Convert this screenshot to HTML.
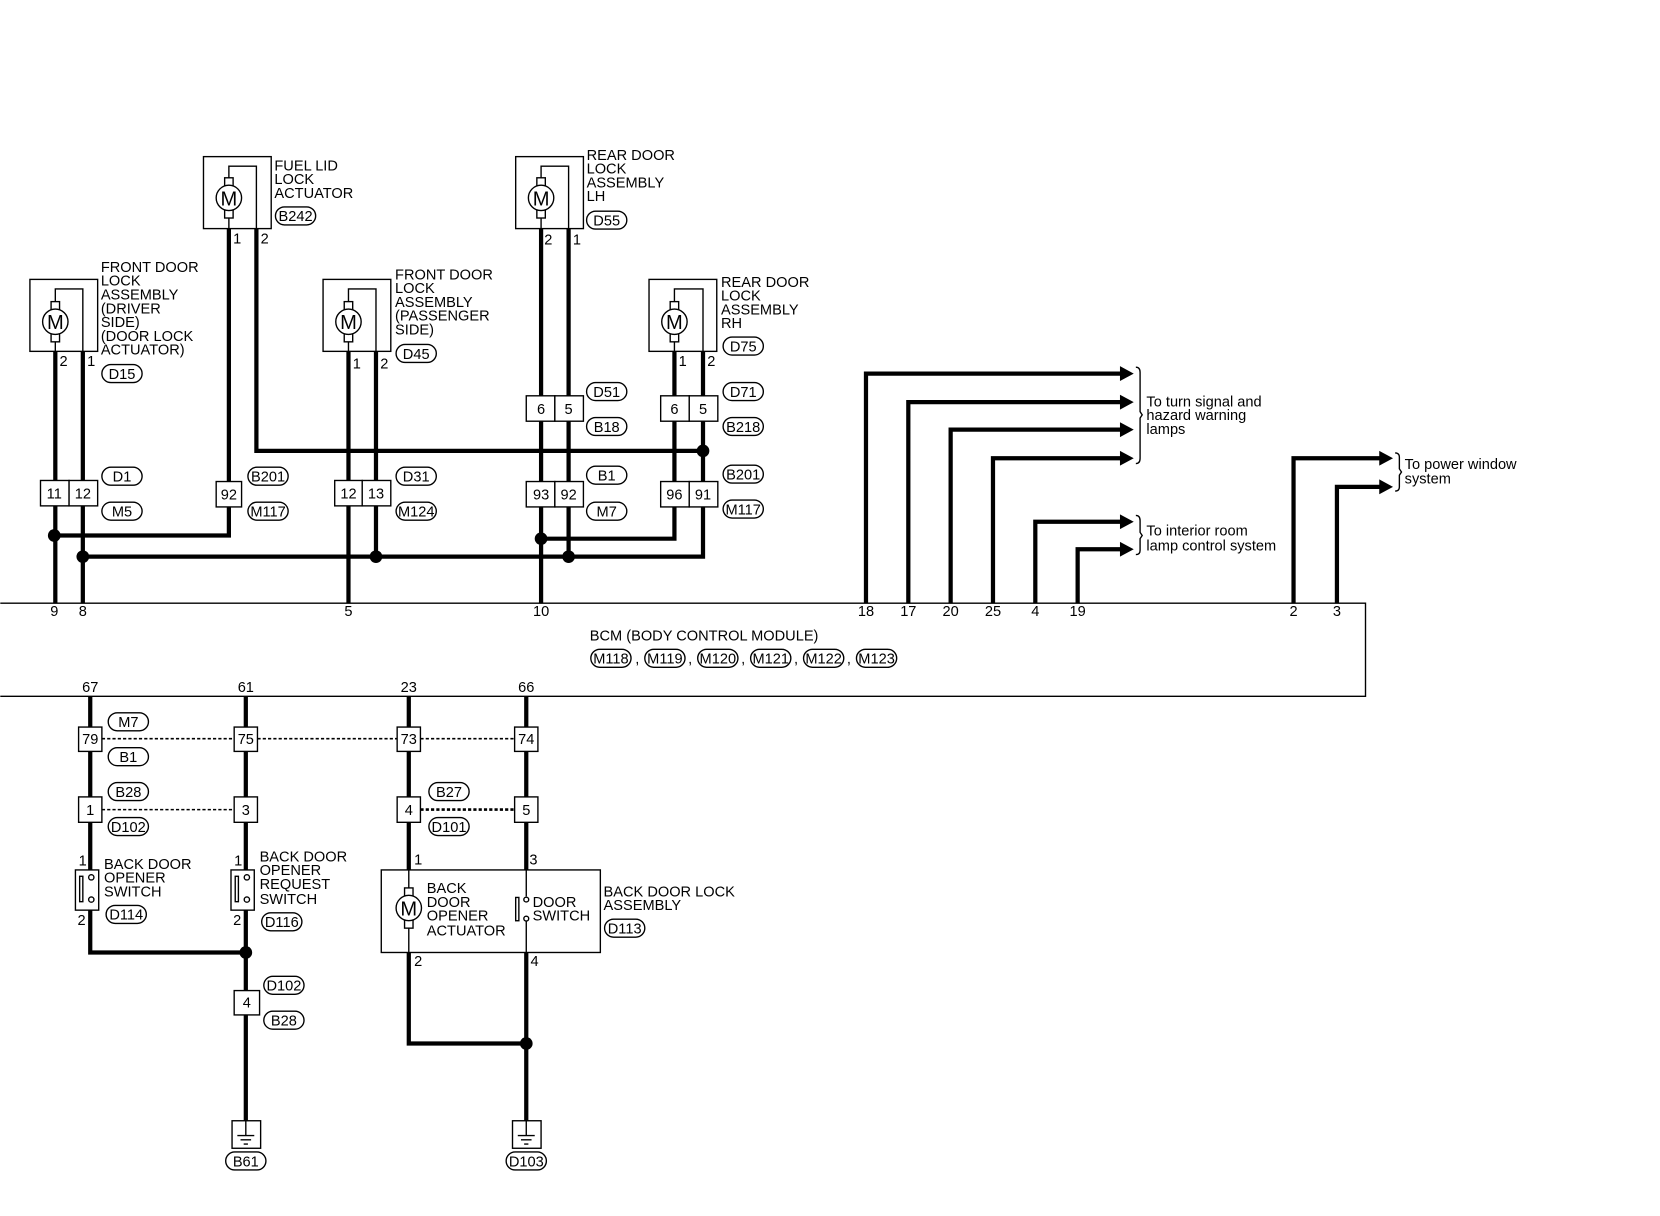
<!DOCTYPE html>
<html><head><meta charset="utf-8"><style>
html,body{margin:0;padding:0;background:#fff;}
svg{display:block}
text{font-family:"Liberation Sans Narrow","Liberation Sans",sans-serif;font-size:13.8px;fill:#000}
.w{stroke:#000;stroke-width:4;fill:none}
.t{stroke:#000;stroke-width:1.3;fill:none}
.b{stroke:#000;stroke-width:1.3;fill:#fff}
.d{stroke:#000;stroke-width:1.5;stroke-dasharray:3,2;fill:none}
.o{stroke:#000;stroke-width:1.3;fill:#fff}
.c{text-anchor:middle}
.m{font-size:19px;text-anchor:middle}
</style></head><body>
<svg width="1660" height="1216" viewBox="0 0 1568 1149" xmlns="http://www.w3.org/2000/svg">
<defs>
<g id="mot">
<rect x="-4" y="-19" width="8" height="8" class="b"/>
<rect x="-4" y="11" width="8" height="8" class="b"/>
<circle r="12" class="b"/>
</g>
<g id="ov"><rect x="-19" y="-8.5" width="38" height="17" rx="8.5" class="o"/></g>
</defs>

<path class="w" d="M52,332 V570 M78,332 V570"/>
<path class="w" d="M216,216 V506 H51 M242,216 V426 H664"/>
<path class="w" d="M329,332 V570 M355,332 V526"/>
<path class="w" d="M511,216 V570 M537,216 V526"/>
<path class="w" d="M511,509 H637 V332"/>
<path class="w" d="M664,332 V526 H78"/>

<g fill="#000">
<circle cx="51" cy="506" r="6"/><circle cx="78" cy="526" r="6"/><circle cx="355" cy="526" r="6"/>
<circle cx="537" cy="526" r="6"/><circle cx="511" cy="509" r="6"/><circle cx="664" cy="426" r="6"/>
<circle cx="232" cy="900" r="6"/><circle cx="497" cy="986" r="6"/>
</g>

<rect x="192" y="148" width="64" height="68" class="b"/>
<path class="t" d="M216,168 V157 H242 V216"/><path class="t" d="M216,206 V216"/>
<use href="#mot" x="216" y="187"/><text x="216" y="194" class="m">M</text>
<text x="259" y="161">FUEL LID</text><text x="259" y="174">LOCK</text><text x="259" y="187">ACTUATOR</text>
<use href="#ov" x="279" y="204"/><text x="279" y="209" class="c">B242</text>
<text x="220" y="230">1</text><text x="246" y="230">2</text>

<rect x="487" y="148" width="64" height="68" class="b"/>
<path class="t" d="M511,168 V157 H537 V216"/><path class="t" d="M511,206 V216"/>
<use href="#mot" x="511" y="187"/><text x="511" y="194" class="m">M</text>
<text x="554" y="151">REAR DOOR</text><text x="554" y="164">LOCK</text><text x="554" y="177">ASSEMBLY</text><text x="554" y="190">LH</text>
<use href="#ov" x="573" y="208"/><text x="573" y="213" class="c">D55</text>
<text x="514" y="231">2</text><text x="541" y="231">1</text>

<rect x="28" y="264" width="64" height="68" class="b"/>
<path class="t" d="M52,285 V273 H78 V332"/><path class="t" d="M52,323 V332"/>
<use href="#mot" x="52" y="304"/><text x="52" y="311" class="m">M</text>
<text x="95" y="257">FRONT DOOR</text><text x="95" y="270">LOCK</text><text x="95" y="283">ASSEMBLY</text><text x="95" y="296">(DRIVER</text><text x="95" y="309"> SIDE)</text><text x="95" y="322">(DOOR LOCK</text><text x="95" y="335"> ACTUATOR)</text>
<use href="#ov" x="115" y="353"/><text x="115" y="358" class="c">D15</text>
<text x="56" y="346">2</text><text x="82" y="346">1</text>

<rect x="305" y="264" width="64" height="68" class="b"/>
<path class="t" d="M329,285 V273 H355 V332"/><path class="t" d="M329,323 V332"/>
<use href="#mot" x="329" y="304"/><text x="329" y="311" class="m">M</text>
<text x="373" y="264">FRONT DOOR</text><text x="373" y="277">LOCK</text><text x="373" y="290">ASSEMBLY</text><text x="373" y="303">(PASSENGER</text><text x="373" y="316"> SIDE)</text>
<use href="#ov" x="393" y="334"/><text x="393" y="339" class="c">D45</text>
<text x="333" y="348">1</text><text x="359" y="348">2</text>

<rect x="613" y="264" width="64" height="68" class="b"/>
<path class="t" d="M637,285 V273 H664 V332"/><path class="t" d="M637,323 V332"/>
<use href="#mot" x="637" y="304"/><text x="637" y="311" class="m">M</text>
<text x="681" y="271">REAR DOOR</text><text x="681" y="284">LOCK</text><text x="681" y="297">ASSEMBLY</text><text x="681" y="310">RH</text>
<use href="#ov" x="702" y="327"/><text x="702" y="332" class="c">D75</text>
<text x="641" y="346">1</text><text x="668" y="346">2</text>

<rect x="38" y="454" width="27" height="24" class="b"/><rect x="65" y="454" width="27" height="24" class="b"/>
<text x="51" y="471" class="c">11</text><text x="78" y="471" class="c">12</text>
<use href="#ov" x="115" y="450"/><text x="115" y="455" class="c">D1</text>
<use href="#ov" x="115" y="483"/><text x="115" y="488" class="c">M5</text>

<rect x="204" y="455" width="24" height="24" class="b"/><text x="216" y="472" class="c">92</text>
<use href="#ov" x="253" y="450"/><text x="253" y="455" class="c">B201</text>
<use href="#ov" x="253" y="483"/><text x="253" y="488" class="c">M117</text>

<rect x="316" y="454" width="26" height="24" class="b"/><rect x="342" y="454" width="27" height="24" class="b"/>
<text x="329" y="471" class="c">12</text><text x="355" y="471" class="c">13</text>
<use href="#ov" x="393" y="450"/><text x="393" y="455" class="c">D31</text>
<use href="#ov" x="393" y="483"/><text x="393" y="488" class="c">M124</text>

<rect x="497" y="374" width="27" height="24" class="b"/><rect x="524" y="374" width="27" height="24" class="b"/>
<text x="511" y="391" class="c">6</text><text x="537" y="391" class="c">5</text>
<use href="#ov" x="573" y="370"/><text x="573" y="375" class="c">D51</text>
<use href="#ov" x="573" y="403"/><text x="573" y="408" class="c">B18</text>

<rect x="497" y="455" width="27" height="24" class="b"/><rect x="524" y="455" width="27" height="24" class="b"/>
<text x="511" y="472" class="c">93</text><text x="537" y="472" class="c">92</text>
<use href="#ov" x="573" y="449"/><text x="573" y="454" class="c">B1</text>
<use href="#ov" x="573" y="483"/><text x="573" y="488" class="c">M7</text>

<rect x="624" y="374" width="27" height="24" class="b"/><rect x="651" y="374" width="27" height="24" class="b"/>
<text x="637" y="391" class="c">6</text><text x="664" y="391" class="c">5</text>
<use href="#ov" x="702" y="370"/><text x="702" y="375" class="c">D71</text>
<use href="#ov" x="702" y="403"/><text x="702" y="408" class="c">B218</text>

<rect x="624" y="455" width="27" height="24" class="b"/><rect x="651" y="455" width="27" height="24" class="b"/>
<text x="637" y="472" class="c">96</text><text x="664" y="472" class="c">91</text>
<use href="#ov" x="702" y="448"/><text x="702" y="453" class="c">B201</text>
<use href="#ov" x="702" y="481"/><text x="702" y="486" class="c">M117</text>

<path class="w" d="M818,570 V353 H1060 M858,570 V380 H1060 M898,570 V406 H1060 M938,570 V433 H1060 M978,570 V493 H1060 M1018,570 V519 H1060 M1222,570 V433 H1305 M1263,570 V460 H1305"/>
<g fill="#000">
<path d="M1058,346 L1071,353 L1058,360Z"/><path d="M1058,373 L1071,380 L1058,387Z"/><path d="M1058,399 L1071,406 L1058,413Z"/><path d="M1058,426 L1071,433 L1058,440Z"/>
<path d="M1058,486 L1071,493 L1058,500Z"/><path d="M1058,512 L1071,519 L1058,526Z"/>
<path d="M1303,426 L1316,433 L1303,440Z"/><path d="M1303,453 L1316,460 L1303,467Z"/>
</g>
<path class="t" d="M1073,347 Q1077,347 1077,352 V389 L1079,392 L1077,395 V433 Q1077,438 1073,438"/>
<path class="t" d="M1073,487 Q1077,487 1077,492 V503 L1079,506 L1077,509 V520 Q1077,524 1073,524"/>
<path class="t" d="M1318,428 Q1322,428 1322,432 V443 L1324,446 L1322,449 V460 Q1322,464 1318,464"/>
<text x="1083" y="384">To turn signal and</text><text x="1083" y="397">hazard warning</text><text x="1083" y="410">lamps</text>
<text x="1083" y="506">To interior room</text><text x="1083" y="520">lamp control system</text>
<text x="1327" y="443">To power window</text><text x="1327" y="457">system</text>

<path class="t" d="M0,570 H1290 V658 H0"/>
<text x="51" y="582" class="c">9</text><text x="78" y="582" class="c">8</text><text x="329" y="582" class="c">5</text><text x="511" y="582" class="c">10</text>
<text x="818" y="582" class="c">18</text><text x="858" y="582" class="c">17</text><text x="898" y="582" class="c">20</text><text x="938" y="582" class="c">25</text><text x="978" y="582" class="c">4</text><text x="1018" y="582" class="c">19</text>
<text x="1222" y="582" class="c">2</text><text x="1263" y="582" class="c">3</text>
<text x="557" y="605">BCM (BODY CONTROL MODULE)</text>
<use href="#ov" x="577" y="622"/><text x="577" y="627" class="c">M118</text>
<use href="#ov" x="628" y="622"/><text x="628" y="627" class="c">M119</text>
<use href="#ov" x="678" y="622"/><text x="678" y="627" class="c">M120</text>
<use href="#ov" x="728" y="622"/><text x="728" y="627" class="c">M121</text>
<use href="#ov" x="778" y="622"/><text x="778" y="627" class="c">M122</text>
<use href="#ov" x="828" y="622"/><text x="828" y="627" class="c">M123</text>
<text x="600" y="627">,</text><text x="650" y="627">,</text><text x="700" y="627">,</text><text x="750" y="627">,</text><text x="800" y="627">,</text>
<text x="85" y="654" class="c">67</text><text x="232" y="654" class="c">61</text><text x="386" y="654" class="c">23</text><text x="497" y="654" class="c">66</text>

<path class="w" d="M85,658 V822 M85,860 V900 H232 M232,658 V822 M232,860 V1060"/>
<path class="w" d="M386,658 V822 M497,658 V822 M386,900 V986 H497 M497,900 V1060"/>
<path class="d" d="M96,698 H221 M243,698 H375 M397,698 H486 M96,765 H221"/>
<path d="M397,765 H486" stroke="#000" stroke-width="2.5" stroke-dasharray="3,2"/>

<rect x="74" y="687" width="22" height="23" class="b"/><text x="85" y="703" class="c">79</text>
<rect x="221" y="687" width="22" height="23" class="b"/><text x="232" y="703" class="c">75</text>
<rect x="375" y="687" width="22" height="23" class="b"/><text x="386" y="703" class="c">73</text>
<rect x="486" y="687" width="22" height="23" class="b"/><text x="497" y="703" class="c">74</text>
<use href="#ov" x="121" y="682"/><text x="121" y="687" class="c">M7</text>
<use href="#ov" x="121" y="715"/><text x="121" y="720" class="c">B1</text>

<rect x="74" y="753" width="22" height="24" class="b"/><text x="85" y="770" class="c">1</text>
<rect x="221" y="753" width="22" height="24" class="b"/><text x="232" y="770" class="c">3</text>
<rect x="375" y="753" width="22" height="24" class="b"/><text x="386" y="770" class="c">4</text>
<rect x="486" y="753" width="22" height="24" class="b"/><text x="497" y="770" class="c">5</text>
<use href="#ov" x="121" y="748"/><text x="121" y="753" class="c">B28</text>
<use href="#ov" x="121" y="781"/><text x="121" y="786" class="c">D102</text>
<use href="#ov" x="424" y="748"/><text x="424" y="753" class="c">B27</text>
<use href="#ov" x="424" y="781"/><text x="424" y="786" class="c">D101</text>

<rect x="71" y="822" width="22" height="38" class="b"/>
<rect x="75" y="828" width="3" height="24" class="t"/><circle cx="86" cy="829" r="2.5" class="b"/><circle cx="86" cy="850" r="2.5" class="b"/>
<text x="74" y="818">1</text><text x="73" y="874">2</text>
<text x="98" y="821">BACK DOOR</text><text x="98" y="834">OPENER</text><text x="98" y="847">SWITCH</text>
<use href="#ov" x="119" y="864"/><text x="119" y="869" class="c">D114</text>

<rect x="218" y="822" width="22" height="38" class="b"/>
<rect x="222" y="828" width="3" height="24" class="t"/><circle cx="233" cy="829" r="2.5" class="b"/><circle cx="233" cy="850" r="2.5" class="b"/>
<text x="221" y="818">1</text><text x="220" y="874">2</text>
<text x="245" y="814">BACK DOOR</text><text x="245" y="827">OPENER</text><text x="245" y="840">REQUEST</text><text x="245" y="854">SWITCH</text>
<use href="#ov" x="266" y="871"/><text x="266" y="876" class="c">D116</text>

<rect x="360" y="822" width="207" height="78" class="b"/>
<path class="t" d="M386,822 V900 M497,822 V847 M497,870 V900"/>
<use href="#mot" x="386" y="858"/><text x="386" y="865" class="m">M</text>
<rect x="487" y="848" width="3" height="22" class="t"/><circle cx="497" cy="850" r="2.3" class="b"/><circle cx="497" cy="868" r="2.3" class="b"/>
<text x="391" y="817">1</text><text x="500" y="817">3</text><text x="391" y="913">2</text><text x="501" y="913">4</text>
<text x="403" y="844">BACK</text><text x="403" y="857">DOOR</text><text x="403" y="870">OPENER</text><text x="403" y="884">ACTUATOR</text>
<text x="503" y="857">DOOR</text><text x="503" y="870">SWITCH</text>
<text x="570" y="847">BACK DOOR LOCK</text><text x="570" y="860">ASSEMBLY</text>
<use href="#ov" x="590" y="877"/><text x="590" y="882" class="c">D113</text>

<rect x="221" y="936" width="24" height="23" class="b"/><text x="233" y="952" class="c">4</text>
<use href="#ov" x="268" y="931"/><text x="268" y="936" class="c">D102</text>
<use href="#ov" x="268" y="964"/><text x="268" y="969" class="c">B28</text>

<rect x="219" y="1059" width="27" height="26" class="b"/>
<path class="t" d="M232,1059 V1073 M224,1073 H240 M227,1077 H237 M230,1081 H234"/>
<use href="#ov" x="232" y="1097"/><text x="232" y="1102" class="c">B61</text>
<rect x="484" y="1059" width="27" height="26" class="b"/>
<path class="t" d="M497,1059 V1073 M489,1073 H505 M492,1077 H502 M495,1081 H499"/>
<use href="#ov" x="497" y="1097"/><text x="497" y="1102" class="c">D103</text>
</svg>
</body></html>
